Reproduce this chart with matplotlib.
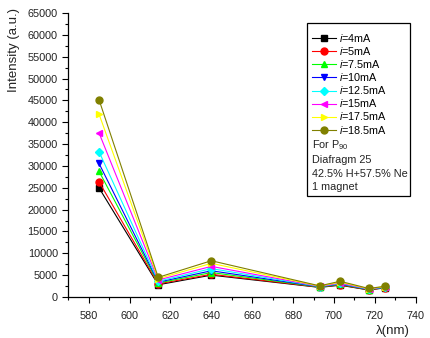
import matplotlib
matplotlib.use("Agg")
import matplotlib.pyplot as plt
from matplotlib.patches import Rectangle
from matplotlib.ticker import MultipleLocator

plt.rcParams['font.family'] = ['Liberation Sans', 'DejaVu Sans']
plt.rcParams['mathtext.fontset'] = 'custom'
plt.rcParams['mathtext.rm'] = 'Liberation Sans'
plt.rcParams['mathtext.it'] = 'Liberation Sans:italic'

wavelengths = [585, 614, 640, 693, 703, 717, 725]
currents = ['4', '5', '7.5', '10', '12.5', '15', '17.5', '18.5']
i4 = [25000, 2800, 5000, 2200, 2700, 1600, 2100]
i5 = [26400, 3000, 5200, 2250, 2800, 1650, 2150]
i7_5 = [28800, 3200, 5600, 2300, 2900, 1700, 2200]
i10 = [30600, 3400, 6000, 2350, 3000, 1750, 2250]
i12_5 = [33300, 3600, 6500, 2400, 3100, 1800, 2300]
i15 = [37600, 3900, 7000, 2450, 3200, 1850, 2350]
i17_5 = [41900, 4200, 7700, 2500, 3400, 1900, 2400]
i18_5 = [45200, 4500, 8300, 2550, 3600, 1950, 2450]
series = [i4, i5, i7_5, i10, i12_5, i15, i17_5, i18_5]
colors = ['#000000', '#ff0000', '#00ff00', '#0000ff', '#00ffff', '#ff00ff', '#ffff00', '#808000']
markers = ['s', 'o', '^', 'v', 'D', '<', '>', 'o']
notes = ['For P$_{90}$', 'Diafragm 25', '42.5% H+57.5% Ne', '1 magnet']

W, H = 430, 338
fig = plt.figure(figsize=(W / 100, H / 100), dpi=100)
def fx(px): return px / W
def fy(py): return 1 - py / H

ax = fig.add_axes([fx(68.3), fy(297), fx(415.7) - fx(68.3), fy(13) - fy(297)])
handles = []
for vals, c, m, cur in zip(series, colors, markers, currents):
    ms = 4.2 if m == 'D' else 5
    h, = ax.plot(wavelengths, vals, color=c, marker=m, markersize=ms, lw=0.8,
                 label=r'$\it{i}$=' + cur + 'mA')
    handles.append(h)

ax.set_xlim(570, 740)
ax.set_ylim(0, 65000)
ax.xaxis.set_major_locator(MultipleLocator(20))
ax.xaxis.set_minor_locator(MultipleLocator(10))
ax.yaxis.set_major_locator(MultipleLocator(5000))
ax.yaxis.set_minor_locator(MultipleLocator(2500))
for s in ['top', 'right']:
    ax.spines[s].set_visible(False)
for s in ['left', 'bottom']:
    ax.spines[s].set_linewidth(0.9)
ax.tick_params(which='major', direction='out', length=4, width=0.8, labelsize=7.8, colors='#000000', labelcolor='#222222')
ax.tick_params(which='minor', direction='out', length=2.5, width=0.8)
ax.tick_params(axis='x', pad=6)

fig.text(fx(14), fy(50), 'Intensity (a.u.)', rotation=90, ha='center', va='center', fontsize=9.5, color='#222222')
fig.text(fx(393), fy(331), 'λ(nm)', ha='center', va='center', fontsize=9.5, color='#222222')

leg = ax.legend(handles=handles, loc='upper left', bbox_to_anchor=(fx(311.7), fy(32)),
                bbox_transform=fig.transFigure, frameon=False, fontsize=7.8,
                handlelength=2.24, handletextpad=0.3, labelspacing=0.1,
                borderpad=0, borderaxespad=0)

note_y = [145, 160, 174, 187.3]
for t, yy in zip(notes, note_y):
    fig.text(fx(311.7), fy(yy), t, ha='left', va='center', fontsize=7.8, color='#222222')

fig.patches.append(Rectangle((fx(307), fy(196)), fx(410) - fx(307), fy(23) - fy(196),
                             transform=fig.transFigure, fill=False, edgecolor='#000000', lw=0.9))

fig.savefig('out.png', dpi=100)
